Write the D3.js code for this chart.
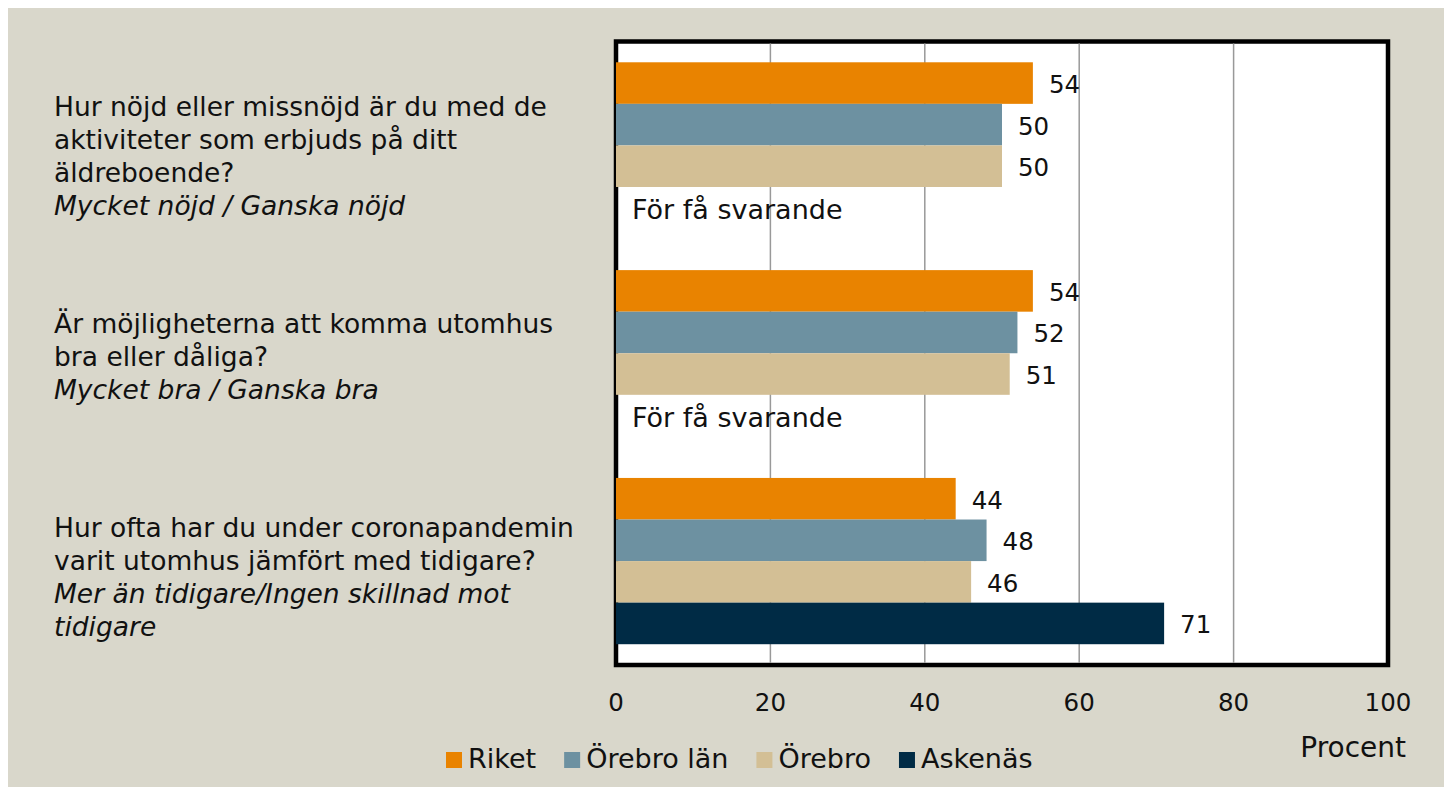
<!DOCTYPE html>
<html>
<head>
<meta charset="utf-8">
<script src="https://cdn.jsdelivr.net/npm/d3@7"></script>
<style>
  html, body { margin: 0; padding: 0; background: #ffffff; }
  svg { display: block; }
  text { font-family: "DejaVu Sans", sans-serif; fill: #111; }
</style>
</head>
<body>
<svg id="chart" width="1452" height="795"></svg>
<script>
// ---- data ----
const questions = [
  ["Hur nöjd eller missnöjd är du med de", "aktiviteter som erbjuds på ditt", "äldreboende?", "Mycket nöjd / Ganska nöjd"],
  ["Är möjligheterna att komma utomhus", "bra eller dåliga?", "Mycket bra / Ganska bra"],
  ["Hur ofta har du under coronapandemin", "varit utomhus jämfört med tidigare?", "Mer än tidigare/Ingen skillnad mot", "tidigare"]
];
// number of leading non-italic lines per question
const plainLines = [3, 2, 2];
const seriesNames = ["Riket", "Örebro län", "Örebro", "Askenäs"];
const riket = [54, 54, 44];
const orebroLan = [50, 52, 48];
const orebro = [50, 51, 46];
const askenas = [null, null, 71];
const seriesValues = [riket, orebroLan, orebro, askenas];
const colors = ["#E98300", "#6D91A1", "#D3BF95", "#002B45"];
const xTicks = [0, 20, 40, 60, 80, 100];
const missingText = "För få svarande";
const axisTitle = "Procent";

// ---- layout ----
const svg = d3.select("#chart");
const W = 1452, H = 795;
const plot = { left: 616, right: 1388, top: 41.5, bottom: 665 };
const numFont = 24.5, qFont = 26.5, missFont = 27, legFont = 27, titleFont = 28;

svg.append("rect").attr("x", 0).attr("y", 0).attr("width", W).attr("height", H).attr("fill", "#ffffff");
svg.append("rect").attr("x", 8).attr("y", 8).attr("width", W - 16).attr("height", H - 16).attr("fill", "#D9D7CB");

const x = d3.scaleLinear().domain([0, 100]).range([plot.left, plot.right]);
const y0 = d3.scaleBand().domain(d3.range(questions.length)).range([plot.top, plot.bottom])
  .paddingInner(0.2).paddingOuter(0.1);
const y1 = d3.scaleBand().domain(d3.range(seriesNames.length)).range([0, y0.bandwidth()]);

// frame
svg.append("rect")
  .attr("x", plot.left).attr("y", plot.top)
  .attr("width", plot.right - plot.left).attr("height", plot.bottom - plot.top)
  .attr("fill", "#ffffff").attr("stroke", "#000").attr("stroke-width", 4.5);

// gridlines
svg.append("g").selectAll("line")
  .data(xTicks.filter(t => t > 0 && t < 100))
  .join("line")
  .attr("x1", d => x(d)).attr("x2", d => x(d))
  .attr("y1", plot.top + 2).attr("y2", plot.bottom - 2)
  .attr("stroke", "#999").attr("stroke-width", 1.5);

// bars
const flat = [];
questions.forEach((q, qi) => {
  seriesValues.forEach((vals, si) => {
    flat.push({ qi, si, v: vals[qi] });
  });
});

svg.append("g").selectAll("rect")
  .data(flat.filter(d => d.v != null))
  .join("rect")
  .attr("x", x(0))
  .attr("y", d => y0(d.qi) + y1(d.si))
  .attr("width", d => x(d.v) - x(0))
  .attr("height", y1.bandwidth())
  .attr("fill", d => colors[d.si]);

// value labels
svg.append("g").selectAll("text")
  .data(flat)
  .join("text")
  .attr("x", d => d.v != null ? x(d.v) + 16 : x(0) + 16)
  .attr("y", d => y0(d.qi) + y1(d.si) + y1.bandwidth() / 2 + (d.v != null ? 10 : 11))
  .attr("font-size", d => d.v != null ? numFont : missFont)
  .text(d => d.v != null ? d.v : missingText);

// x axis tick labels
svg.append("g").selectAll("text")
  .data(xTicks)
  .join("text")
  .attr("x", d => x(d))
  .attr("y", 711)
  .attr("text-anchor", "middle")
  .attr("font-size", numFont)
  .text(d => d);

svg.append("text")
  .attr("x", 1406).attr("y", 757)
  .attr("text-anchor", "end")
  .attr("font-size", titleFont)
  .text(axisTitle);

// question labels
const labelShift = [20, 13, 25.5];
const lineH = 33;
questions.forEach((lines, qi) => {
  const cy = y0(qi) + y0.bandwidth() / 2 + labelShift[qi];
  const n = lines.length;
  svg.append("g").selectAll("text")
    .data(lines)
    .join("text")
    .attr("x", 54)
    .attr("y", (d, i) => cy + (i - (n - 1) / 2) * lineH)
    .attr("font-size", qFont)
    .attr("font-style", (d, i) => i >= plainLines[qi] ? "italic" : "normal")
    .text(d => d);
});

// legend
const legend = svg.append("g");
let lx = 446;
seriesNames.forEach((name, i) => {
  legend.append("rect")
    .attr("x", lx).attr("y", 752).attr("width", 16).attr("height", 16)
    .attr("fill", colors[i]);
  const t = legend.append("text")
    .attr("x", lx + 22).attr("y", 768)
    .attr("font-size", legFont)
    .text(name);
  lx = lx + 22 + t.node().getComputedTextLength() + 28;
});
</script>
</body>
</html>
